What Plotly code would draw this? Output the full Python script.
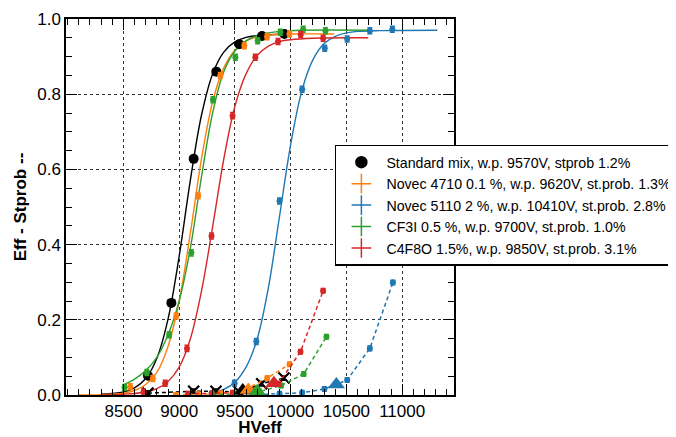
import plotly.graph_objects as go

# ---------------- data ----------------
names = [
    "Standard mix, w.p. 9570V, stprob 1.2%",
    "Novec 4710 0.1 %, w.p. 9620V, st.prob. 1.3%",
    "Novec 5110 2 %, w.p. 10410V, st.prob. 2.8%",
    "CF3I 0.5 %, w.p. 9700V, st.prob. 1.0%",
    "C4F8O 1.5%, w.p. 9850V, st.prob. 3.1%",
]
colors = ["#000000", "#ff7f0e", "#1f77b4", "#2ca02c", "#d62728"]

# efficiency points
eff_std_x = [8720, 8930, 9130, 9333, 9540, 9743, 9944]
eff_std_y = [0.051, 0.245, 0.628, 0.860, 0.933, 0.955, 0.960]
eff_n47_x = [8561, 8764, 8973, 9170, 9369, 9584, 9788, 9989]
eff_n47_y = [0.022, 0.044, 0.210, 0.530, 0.850, 0.929, 0.953, 0.960]
eff_n51_x = [9497, 9692, 9900, 10103, 10306, 10507, 10710, 10912]
eff_n51_y = [0.031, 0.142, 0.516, 0.813, 0.922, 0.947, 0.969, 0.973]
eff_cf3i_x = [8510, 8710, 8910, 9109, 9303, 9504, 9704, 9908, 10112, 10312]
eff_cf3i_y = [0.020, 0.060, 0.160, 0.378, 0.785, 0.898, 0.942, 0.965, 0.973, 0.969]
eff_c4f8o_x = [8680, 8875, 9070, 9290, 9479, 9683, 9887, 10090, 10291]
eff_c4f8o_y = [0.008, 0.031, 0.124, 0.423, 0.743, 0.898, 0.940, 0.959, 0.949]
eff_err = 0.008

# fitted efficiency curves
fit_std_x = [8300, 8500, 8600, 8700, 8800, 8900, 9000, 9100, 9200, 9300, 9400, 9500, 9600, 9700, 9800, 9950]
fit_std_y = [0.002, 0.008, 0.019, 0.044, 0.098, 0.202, 0.369, 0.571, 0.744, 0.854, 0.912, 0.939, 0.951, 0.956, 0.958, 0.960]
fit_n47_x = [8100, 8300, 8500, 8600, 8700, 8800, 8900, 9000, 9100, 9200, 9300, 9400, 9500, 9600, 9700, 9800, 10000, 10390]
fit_n47_y = [0.000, 0.001, 0.005, 0.012, 0.028, 0.060, 0.129, 0.250, 0.430, 0.628, 0.780, 0.870, 0.917, 0.942, 0.952, 0.957, 0.960, 0.960]
fit_n51_x = [9300, 9400, 9500, 9600, 9700, 9800, 9900, 10000, 10100, 10200, 10300, 10400, 10500, 10600, 10800, 11316]
fit_n51_y = [0.006, 0.015, 0.034, 0.074, 0.149, 0.285, 0.475, 0.666, 0.809, 0.892, 0.935, 0.954, 0.963, 0.967, 0.969, 0.970]
fit_cf3i_x = [8500, 8600, 8700, 8800, 8900, 9000, 9100, 9200, 9300, 9400, 9500, 9600, 9700, 9800, 9900, 10100, 10716]
fit_cf3i_y = [0.027, 0.042, 0.065, 0.100, 0.160, 0.250, 0.390, 0.580, 0.750, 0.860, 0.915, 0.942, 0.956, 0.963, 0.967, 0.970, 0.970]
fit_c4f8o_x = [8300, 8500, 8700, 8800, 8900, 9000, 9100, 9200, 9300, 9400, 9500, 9600, 9700, 9800, 9900, 10000, 10200, 10696]
fit_c4f8o_y = [0.000, 0.002, 0.008, 0.017, 0.036, 0.074, 0.149, 0.276, 0.447, 0.627, 0.768, 0.854, 0.903, 0.928, 0.940, 0.945, 0.949, 0.950]

# streamer probability points (dashed)
st_std_x = [8720, 9130, 9330, 9540, 9740, 9940]
st_std_y = [0.005, 0.010, 0.010, 0.008, 0.030, 0.045]
st_n47_x = [8970, 9170, 9370, 9580, 9790, 9990]
st_n47_y = [0.000, 0.002, 0.004, 0.012, 0.045, 0.082]
st_n51_x = [9700, 9900, 10103, 10303, 10507, 10710, 10917]
st_n51_y = [0.001, 0.003, 0.006, 0.016, 0.040, 0.124, 0.299]
st_cf3i_x = [9300, 9500, 9710, 9914, 10117, 10321]
st_cf3i_y = [0.001, 0.003, 0.008, 0.025, 0.056, 0.155]
st_c4f8o_x = [9080, 9290, 9480, 9680, 9890, 10088, 10291]
st_c4f8o_y = [0.003, 0.004, 0.006, 0.012, 0.030, 0.115, 0.277]
st_err = 0.006

# working points (big triangles)
wp_x = [9570, 9620, 10410, 9700, 9850]
wp_y = [0.012, 0.013, 0.028, 0.010, 0.031]

eff_x = [eff_std_x, eff_n47_x, eff_n51_x, eff_cf3i_x, eff_c4f8o_x]
eff_y = [eff_std_y, eff_n47_y, eff_n51_y, eff_cf3i_y, eff_c4f8o_y]
fit_x = [fit_std_x, fit_n47_x, fit_n51_x, fit_cf3i_x, fit_c4f8o_x]
fit_y = [fit_std_y, fit_n47_y, fit_n51_y, fit_cf3i_y, fit_c4f8o_y]
st_x = [st_std_x, st_n47_x, st_n51_x, st_cf3i_x, st_c4f8o_x]
st_y = [st_std_y, st_n47_y, st_n51_y, st_cf3i_y, st_c4f8o_y]

x_ticks = [8500, 9000, 9500, 10000, 10500, 11000]
y_ticks = [0.0, 0.2, 0.4, 0.6, 0.8, 1.0]

FONT = "Liberation Sans, Arial, Helvetica, sans-serif"

fig = go.Figure()

# fitted curves
for i in range(5):
    fig.add_trace(go.Scatter(x=fit_x[i], y=fit_y[i], mode="lines", line=dict(color=colors[i], width=1.4, shape="spline"),
                             showlegend=False, hoverinfo="skip"))

# streamer dashed curves
for i in range(5):
    if i == 0:
        mk = dict(symbol="x-thin-open", size=11, color="black", line=dict(width=2.2, color="black"))
    else:
        mk = dict(symbol="circle", size=6, color=colors[i])
    fig.add_trace(go.Scatter(x=st_x[i], y=st_y[i], mode="lines+markers",
                             line=dict(color=colors[i], width=1.5, dash="4px,3px"),
                             marker=mk,
                             error_y=dict(type="constant", value=st_err, color=colors[i], thickness=1.5, width=2.5),
                             showlegend=False))

# working point triangles
for i in range(5):
    fig.add_trace(go.Scatter(x=[wp_x[i]], y=[wp_y[i]], mode="markers",
                             marker=dict(symbol="triangle-up", size=15, color=colors[i]), showlegend=False))

# efficiency points
for i in range(5):
    if i == 0:
        mk = dict(symbol="circle", size=10, color="black")
    else:
        mk = dict(symbol="circle", size=6, color=colors[i])
    fig.add_trace(go.Scatter(x=eff_x[i], y=eff_y[i], mode="markers", marker=mk,
                             error_y=dict(type="constant", value=eff_err, color=colors[i], thickness=1.5, width=2.5),
                             showlegend=False))

# legend entries
for i in range(5):
    if i == 0:
        mk = dict(symbol="circle-cross", size=11, color="black", line=dict(color="black", width=1.5))
    else:
        mk = dict(symbol="cross-thin-open", size=14, color=colors[i], line=dict(color=colors[i], width=1.5))
    fig.add_trace(go.Scatter(x=[None], y=[None], mode="markers", marker=mk, name=names[i], showlegend=True))

axis_common = dict(
    showline=True, linecolor="black", linewidth=1.5, mirror="ticks",
    ticks="inside", ticklen=11, tickwidth=1.2, tickcolor="black",
    showgrid=True, gridcolor="#333333", gridwidth=1, griddash="3px,3px",
    zeroline=False, tickfont=dict(family=FONT, size=17, color="black"),
)

fig.update_xaxes(range=[7985, 11465], tickvals=x_ticks, ticktext=[str(v) for v in x_ticks],
                 minor=dict(dtick=100, tick0=8000, ticks="inside", ticklen=6, tickcolor="black", showgrid=False),
                 title=dict(text="<b>HVeff</b>", font=dict(family=FONT, size=17, color="black"), standoff=7),
                 **axis_common)
fig.update_yaxes(range=[0, 1.0], tickvals=y_ticks, ticktext=[f"{v:.1f}" for v in y_ticks],
                 minor=dict(dtick=0.05, tick0=0, ticks="inside", ticklen=6, tickcolor="black", showgrid=False),
                 title=dict(text="<b>Eff - Stprob --</b>", font=dict(family=FONT, size=17, color="black"), standoff=6),
                 **axis_common)

# the page body adds an 8px offset, so the figure is 8px smaller and margins are shifted
fig.update_layout(
    width=668, height=429,
    margin=dict(l=58, r=222, t=11, b=42, autoexpand=False),
    paper_bgcolor="white", plot_bgcolor="white",
    font=dict(family=FONT, color="black"),
    legend=dict(x=0.693, y=0.665, xanchor="left", yanchor="top",
                bgcolor="white", bordercolor="black", borderwidth=1.5,
                font=dict(family=FONT, size=14.2, color="black"),
                itemwidth=40, tracegroupgap=0),
)

fig.write_html("out.html")
